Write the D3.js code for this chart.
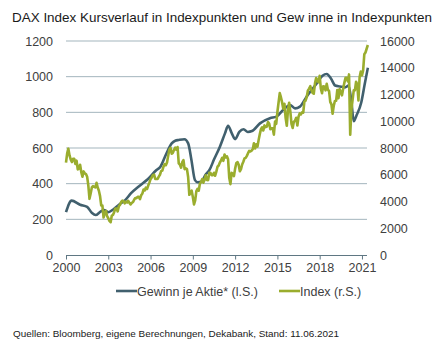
<!DOCTYPE html>
<html>
<head>
<meta charset="utf-8">
<script src="https://cdn.jsdelivr.net/npm/d3@7"></script>
<style>
html,body{margin:0;padding:0;background:#fff;}
svg{display:block;font-family:"Liberation Sans",Arial,sans-serif;}
</style>
</head>
<body>
<svg id="chart" width="447" height="351"></svg>
<script>
// ---------- data ----------
const titleText = "DAX Index Kursverlauf in Indexpunkten und Gew inne in Indexpunkten";
const sourceText = "Quellen: Bloomberg, eigene Berechnungen, Dekabank, Stand: 11.06.2021";
const xTicks = [2000, 2003, 2006, 2009, 2012, 2015, 2018, 2021];
const leftTicks = [0, 200, 400, 600, 800, 1000, 1200];
const rightTicks = [0, 2000, 4000, 6000, 8000, 10000, 12000, 14000, 16000];
const seriesNames = ["Gewinn je Aktie* (l.S.)", "Index (r.S.)"];

// Gewinn je Aktie (left scale), dates as decimal years
const epsDates = [2000.0,2000.4,2001.0,2001.5,2001.85,2002.1,2002.45,2002.7,2003.0,2003.35,2003.8,2004.2,2004.6,
  2005.25,2005.8,2006.4,2006.7,2007.1,2007.5,2007.75,2008.0,2008.4,2008.67,2008.9,2009.15,2009.35,2009.6,2009.9,
  2010.2,2010.5,2010.92,2011.28,2011.5,2011.75,2012.0,2012.3,2012.6,2012.9,2013.2,2013.76,2014.47,2014.94,
  2015.4,2015.9,2016.25,2016.6,2017.07,2017.8,2018.2,2018.5,2018.8,2019.1,2019.45,2019.8,2020.05,2020.25,
  2020.42,2020.6,2020.95,2021.2,2021.42];
const epsValues = [240,305,282,270,235,224,243,252,240,255,285,308,345,
  390,425,475,495,565,626,641,645,649,626,533,420,408,411,450,
  480,535,607,682,725,685,650,690,705,690,695,738,767,776,
  813,841,822,832,888,963,1005,1015,990,950,945,940,950,860,
  750,780,855,960,1050];

// DAX index (right scale), monthly from Jan 2000 to Jun 2021
const indexStartYear = 2000;
const indexValues = [
  6900,7600,7950,7450,7150,6950,7200,7200,6800,7050,6400,6450,
  6750,6200,5850,6250,6100,6050,5850,5200,4200,4600,5050,5150,
  5100,5050,5400,5050,4800,4400,3700,3700,2800,3150,3300,2900,
  2750,2550,2450,2950,3000,3200,3480,3480,3260,3650,3750,3965,
  4060,4020,3860,3985,3920,4050,3895,3785,3890,3960,4125,4255,
  4250,4350,4350,4185,4460,4590,4890,4830,5040,4930,5190,5410,
  5670,5800,5970,6010,5690,5680,5680,5860,6000,6270,6310,6600,
  6790,6720,6920,7410,7880,8010,7580,7640,7860,8020,7870,8070,
  6850,6750,6530,6950,7100,6420,6480,6420,5830,4500,4650,4810,
  4340,3780,4080,4770,4940,4810,5330,5460,5680,5410,5630,5960,
  5610,5600,6150,6140,5960,5970,6150,5930,6230,6600,6690,6910,
  7080,7270,7040,7510,7290,7380,7160,5780,5300,6140,6090,5900,
  6460,6860,6950,6760,6260,6420,6770,6970,7220,7260,7410,7610,
  7780,7740,7800,7910,8350,7960,8280,8100,8590,9030,9410,9550,
  9310,9690,9560,9600,9940,9830,9410,9470,9470,9000,9980,9810,
  10690,11400,12100,11800,11410,10940,11310,10260,9660,10850,11380,10740,
  9800,9500,9970,10040,10260,9680,10340,10590,10510,10670,10640,11480,
  11540,11830,12310,12440,12620,12330,12120,12060,12830,13230,13020,12920,
  13400,12440,12100,12610,12600,12310,12800,12360,12250,11450,11260,10560,
  11170,11520,11530,12340,11730,12400,12190,11940,12430,12870,13240,13250,
  12980,13500,9000,10860,11590,12310,12310,12950,12760,11560,13290,13720,
  13430,13790,15010,15140,15420,15700];

// ---------- chart ----------
const colEps = "#41606e", colIdx = "#9aad2e", colGrid = "#a3b5bd", colAxis = "#5f7783", colText = "#404040";
const svg = d3.select("#chart");

const x = d3.scaleLinear().domain([2000, 2021.45]).range([66, 368.3]);
const yL = d3.scaleLinear().domain([0, 1200]).range([255, 41]);
const yR = d3.scaleLinear().domain([0, 16000]).range([255, 41]);

// title
svg.append("text").attr("x", 12).attr("y", 22).attr("font-size", 13.5).attr("fill", "#1a1a1a")
  .attr("textLength", 420).attr("lengthAdjust", "spacingAndGlyphs").text(titleText);

// gridlines (left scale)
svg.append("g").selectAll("line").data(leftTicks.filter(d => d > 0)).join("line")
  .attr("x1", 66).attr("x2", 367).attr("y1", d => yL(d)).attr("y2", d => yL(d))
  .attr("stroke", colGrid).attr("stroke-width", 1);

// left axis labels
svg.append("g").selectAll("text").data(leftTicks).join("text")
  .attr("x", 53).attr("y", d => yL(d) + 4.5).attr("text-anchor", "end")
  .attr("font-size", 12.5).attr("fill", colText).text(d => d);

// right axis labels
svg.append("g").selectAll("text").data(rightTicks).join("text")
  .attr("x", 380).attr("y", d => yR(d) + 4.5).attr("text-anchor", "start")
  .attr("font-size", 12.5).attr("fill", colText).text(d => d);

// bottom axis
const xAxis = d3.axisBottom(x).tickValues(xTicks).tickSize(4).tickFormat(d3.format("d"));
const gx = svg.append("g").attr("transform", "translate(0,255.5)").call(xAxis);
gx.select(".domain").attr("d", "M66,0H367").attr("stroke", colAxis);
gx.selectAll(".tick line").attr("stroke", colAxis);
gx.selectAll(".tick text").attr("font-size", 12.5).attr("fill", colText)
  .attr("font-family", '"Liberation Sans",Arial,sans-serif').attr("dy", "0.95em").attr("y", 5);

// lines
const epsData = epsDates.map((d, i) => ({x: d, v: epsValues[i]}));
const idxData = indexValues.map((v, i) => ({x: indexStartYear + i / 12, v}));

svg.append("path").datum(epsData)
  .attr("d", d3.line().x(d => x(d.x)).y(d => yL(d.v)).curve(d3.curveMonotoneX))
  .attr("fill", "none").attr("stroke", colEps).attr("stroke-width", 2.6).attr("stroke-linejoin", "round");

svg.append("path").datum(idxData)
  .attr("d", d3.line().x(d => x(d.x)).y(d => yR(d.v)))
  .attr("fill", "none").attr("stroke", colIdx).attr("stroke-width", 2.6).attr("stroke-linejoin", "round");

// legend
const legend = svg.append("g");
legend.append("line").attr("x1", 116).attr("x2", 137).attr("y1", 291).attr("y2", 291)
  .attr("stroke", colEps).attr("stroke-width", 2.6);
legend.append("text").attr("x", 137).attr("y", 295.5).attr("font-size", 12.5).attr("fill", colText).text(seriesNames[0]);
legend.append("line").attr("x1", 279).attr("x2", 300).attr("y1", 291).attr("y2", 291)
  .attr("stroke", colIdx).attr("stroke-width", 2.6);
legend.append("text").attr("x", 300).attr("y", 295.5).attr("font-size", 12.5).attr("fill", colText).text(seriesNames[1]);

// source
svg.append("text").attr("x", 13).attr("y", 337).attr("font-size", 9).attr("fill", "#1a1a1a")
  .attr("textLength", 326).attr("lengthAdjust", "spacingAndGlyphs").text(sourceText);
</script>
</body>
</html>
